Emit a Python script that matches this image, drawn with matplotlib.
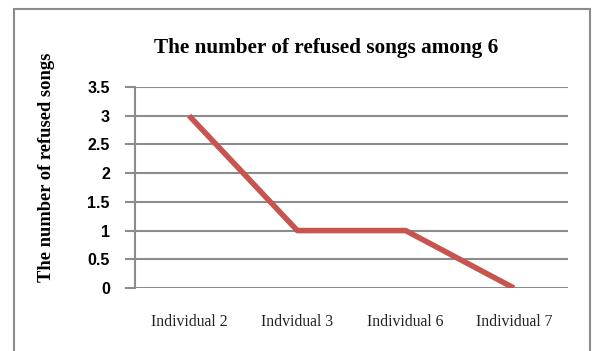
import matplotlib.pyplot as plt
from matplotlib.patches import Rectangle

categories = ['Individual 2', 'Indvidual 3', 'Individual 6', 'Individual 7']
refused = [3, 1, 1, 0]
yticks = [0, 0.5, 1, 1.5, 2, 2.5, 3, 3.5]
ytick_labels = ['0', '0.5', '1', '1.5', '2', '2.5', '3', '3.5']

fig = plt.figure(figsize=(5.97, 3.51), dpi=100)
fig.patches.append(Rectangle((14 / 597, -0.1), (590 - 14) / 597, 1 - 9 / 351 + 0.1,
                             transform=fig.transFigure, fill=False,
                             edgecolor='#8c8c8c', linewidth=1.5))

ax = fig.add_axes([135 / 597, 1 - 288 / 351, (568 - 135) / 597, (288 - 87) / 351])
x = range(len(categories))
ax.plot(x, refused, color='#C8544F', linewidth=4, solid_capstyle='butt', zorder=3)

ax.set_xlim(-0.5, len(categories) - 0.5)
ax.set_ylim(0, 3.5)
ax.set_yticks(yticks)
ax.set_yticklabels(ytick_labels, fontfamily='Liberation Sans', fontweight='bold', fontsize=11.5)
ax.set_xticks(list(x))
ax.set_xticklabels(categories, fontfamily='Liberation Serif', fontsize=11.3, color='#222222')
ax.tick_params(axis='x', length=0, pad=19)
ax.tick_params(axis='y', length=7, width=1.5, color='#8c8c8c', pad=11)

ax.grid(axis='y', color='#8c8c8c', linewidth=1.5)
ax.set_axisbelow(True)
for s in ['top', 'right']:
    ax.spines[s].set_visible(False)
ax.spines['bottom'].set_visible(False)
ax.spines['left'].set_color('#8c8c8c')
ax.spines['left'].set_linewidth(1.5)

fig.text(326 / 597, 1 - 48 / 351, 'The number of refused songs among 6',
         ha='center', va='center', fontfamily='Liberation Serif', fontweight='bold', fontsize=15.3)
fig.text(47 / 597, 1 - 167 / 351, 'The number of refused songs', rotation=90,
         ha='center', va='center', fontfamily='Liberation Serif', fontweight='bold', fontsize=13.3)

fig.savefig('out.png', dpi=100)
